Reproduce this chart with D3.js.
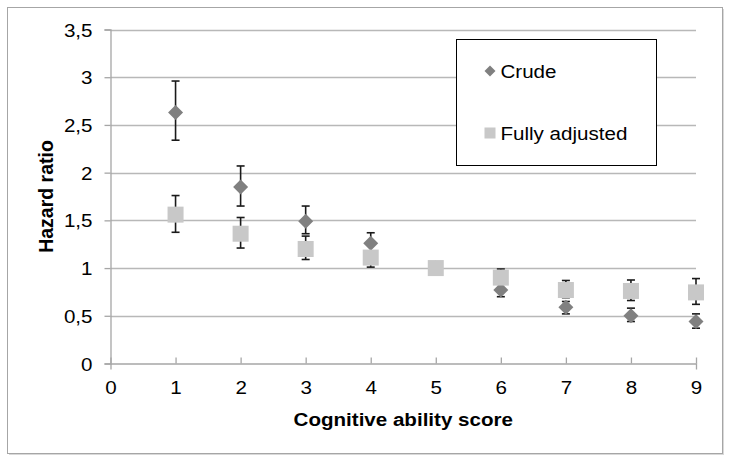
<!DOCTYPE html>
<html><head><meta charset="utf-8">
<script src="https://cdn.jsdelivr.net/npm/d3@7"></script>
<style>body{margin:0;background:#fff}svg{display:block}text{font-family:"Liberation Sans",Arial,sans-serif;fill:#000}</style>
</head><body>
<script>
const scores = [1,2,3,4,5,6,7,8,9];
const crude      = [2.63,1.85,1.49,1.26,1.00,0.77,0.59,0.50,0.44];
const crudeLow   = [2.34,1.65,1.36,1.13,1.00,0.70,0.52,0.44,0.37];
const crudeHigh  = [2.96,2.07,1.65,1.37,1.00,0.84,0.65,0.58,0.52];
const adjusted   = [1.56,1.36,1.20,1.11,1.00,0.90,0.77,0.76,0.745];
const adjLow     = [1.375,1.21,1.09,1.01,1.00,0.83,0.69,0.66,0.62];
const adjHigh    = [1.76,1.53,1.335,1.17,1.00,0.99,0.87,0.875,0.89];
const xTicks = [0,1,2,3,4,5,6,7,8,9];
const yTicks = [0,0.5,1,1.5,2,2.5,3,3.5];
const seriesNames = ["Crude","Fully adjusted"];

const W=733,H=463, FS=18.7, SX=1.1;
const svg=d3.select("body").append("svg").attr("width",W).attr("height",H);
svg.append("rect").attr("x",9).attr("y",9).attr("width",715).attr("height",446).attr("fill","#d9d9d9");
svg.append("rect").attr("x",7.5).attr("y",7.5).attr("width",715).attr("height",446).attr("fill","#fff").attr("stroke","#a6a6a6");

const x=d3.scaleLinear().domain([0,9]).range([110.5,696]);
const y=d3.scaleLinear().domain([0,3.5]).range([363.5,29.5]);
const fmt=v=>String(v).replace(".",",");

// gridlines
svg.append("g").selectAll("line").data(yTicks.filter(d=>d>0)).join("line")
 .attr("x1",x(0)).attr("x2",x(9)).attr("y1",d=>Math.round(y(d))+0.5).attr("y2",d=>Math.round(y(d))+0.5)
 .attr("stroke","#b8b8b8").attr("stroke-width",1.3);

// y axis
const yAxis=svg.append("g").attr("transform",`translate(${x(0)},0)`)
 .call(d3.axisLeft(y).tickValues(yTicks).tickFormat(fmt).tickSize(6).tickPadding(11));
// x axis
const xAxis=svg.append("g").attr("transform",`translate(0,${y(0)})`)
 .call(d3.axisBottom(x).tickValues(xTicks).tickSize(6).tickPadding(4));
xAxis.selectAll(".tick line").attr("y1",-6).attr("y2",0);
[yAxis,xAxis].forEach(g=>{
  g.selectAll("path,line").attr("stroke","#a6a6a6").attr("stroke-width",1.3);
  g.selectAll("text").attr("font-size",FS).attr("font-family","Liberation Sans, Arial, sans-serif").attr("fill","#000")
   .attr("transform",`scale(${SX},1)`);
});
yAxis.selectAll("text").attr("x",-18/SX).attr("dy","0.35em");
xAxis.selectAll("text").attr("y",30.5).attr("dy",0);

// titles
svg.append("g").attr("transform",`translate(${(x(0)+x(9))/2},426)`).append("text").attr("text-anchor","middle")
 .attr("transform",`scale(${SX},1)`).attr("font-size",FS).attr("font-weight","bold").text("Cognitive ability score");
svg.append("text").attr("transform",`translate(53,${(y(0)+y(3.5))/2}) rotate(-90)`).attr("text-anchor","middle")
 .attr("font-size",19.5).attr("font-weight","bold").text("Hazard ratio");

const crudeData=scores.map((s,i)=>({s,v:crude[i],lo:crudeLow[i],hi:crudeHigh[i]}));
const adjData=scores.map((s,i)=>({s,v:adjusted[i],lo:adjLow[i],hi:adjHigh[i]}));

function errBars(data){
  const g=svg.append("g").attr("stroke","#1a1a1a").attr("stroke-width",1.6);
  data.filter(d=>d.hi>d.lo).forEach(d=>{
    g.append("line").attr("x1",x(d.s)).attr("x2",x(d.s)).attr("y1",y(d.lo)).attr("y2",y(d.hi));
    [d.lo,d.hi].forEach(v=>g.append("line").attr("x1",x(d.s)-4).attr("x2",x(d.s)+4).attr("y1",y(v)).attr("y2",y(v)));
  });
}
const diamond=r=>`M0,${-r}L${r},0L0,${r}L${-r},0Z`;
errBars(crudeData);
svg.append("g").selectAll("path").data(crudeData).join("path")
 .attr("transform",d=>`translate(${x(d.s)},${y(d.v)})`).attr("d",diamond(7.5)).attr("fill","#808080");
errBars(adjData);
svg.append("g").selectAll("rect").data(adjData).join("rect")
 .attr("x",d=>x(d.s)-8).attr("y",d=>y(d.v)-8).attr("width",16).attr("height",16).attr("fill","#c8c8c8");

// legend
svg.append("rect").attr("x",456.5).attr("y",39.5).attr("width",200).attr("height",126).attr("fill","#fff").attr("stroke","#000");
const lg=svg.append("g");
lg.append("path").attr("transform","translate(490,71)").attr("d",diamond(5.5)).attr("fill","#808080");
lg.append("rect").attr("x",484.5).attr("y",127.5).attr("width",11).attr("height",11).attr("fill","#c8c8c8");
lg.selectAll("g").data(seriesNames).join("g").attr("transform",(d,i)=>`translate(500.5,${i?140:77.5})`)
 .append("text").attr("transform",`scale(${SX},1)`).attr("font-size",FS).text(d=>d);
</script>
</body></html>
